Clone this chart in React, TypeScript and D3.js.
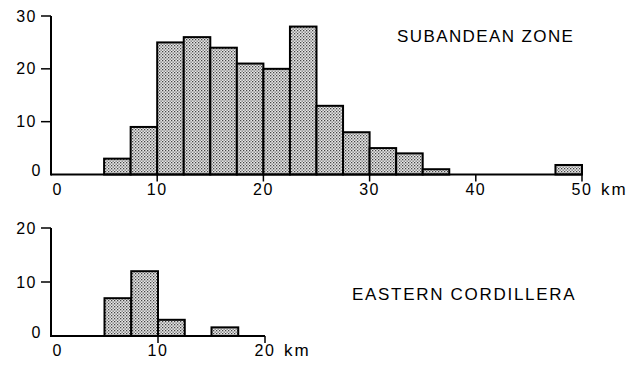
import React from "react";
import * as d3 from "d3";

const binWidth = 2.5;
const subBinStarts = [5, 7.5, 10, 12.5, 15, 17.5, 20, 22.5, 25, 27.5, 30, 32.5, 35, 47.5];
const subCounts = [3, 9, 25, 26, 24, 21, 20, 28, 13, 8, 5, 4, 1, 1.8];
const subXTicks = [10, 20, 30, 40, 50];
const subYTicks = [0, 10, 20, 30];

const eastBinStarts = [5, 7.5, 10, 15];
const eastCounts = [7, 12, 3, 1.6];
const eastXTicks = [10, 20];
const eastYTicks = [0, 10, 20];

const FONT = "'Liberation Sans', Arial, Helvetica, sans-serif";

type PanelProps = {
  starts: number[];
  counts: number[];
  xMax: number;
  yMax: number;
  xTicks: number[];
  yTicks: number[];
  x0: number;
  x1: number;
  yBase: number;
  yTop: number;
  xLabelY: number;
  unitLabel: string;
  pid: string;
};

function Panel(p: PanelProps) {
  const x = d3.scaleLinear().domain([0, p.xMax]).range([p.x0, p.x1]);
  const y = d3.scaleLinear().domain([0, p.yMax]).range([p.yBase, p.yTop]);
  return (
    <g>
      {p.starts.map((s, i) => (
        <rect
          key={i}
          x={x(s)}
          y={y(p.counts[i])}
          width={x(s + binWidth) - x(s)}
          height={y(0) - y(p.counts[i])}
          fill={`url(#${p.pid})`}
          stroke="#000"
          strokeWidth={2}
        />
      ))}
      <line x1={x(0)} x2={x(p.xMax)} y1={y(0)} y2={y(0)} stroke="#000" strokeWidth={2} />
      <line x1={x(0)} x2={x(0)} y1={y(0) + 1} y2={y(p.yMax)} stroke="#000" strokeWidth={2} />
      {p.yTicks.filter((t) => t > 0).map((t) => (
        <line key={t} x1={x(0) - 10} x2={x(0)} y1={y(t)} y2={y(t)} stroke="#000" strokeWidth={1.5} />
      ))}
      {p.xTicks.map((t) => (
        <line key={t} x1={x(t)} x2={x(t)} y1={y(0)} y2={y(0) + 7} stroke="#000" strokeWidth={1.5} />
      ))}
      {p.yTicks.map((t) => (
        <text
          key={t}
          x={x(0) - (t === 0 ? 9 : 14)}
          y={t === 0 ? y(0) - 4 : y(t)}
          textAnchor="end"
          dominantBaseline="central"
          fontSize={16}
          letterSpacing={1.5}
          fontFamily={FONT}
        >
          {t}
        </text>
      ))}
      <text x={x(0) + 6} y={p.xLabelY} textAnchor="middle" fontSize={16} fontFamily={FONT}>
        0
      </text>
      {p.xTicks.map((t) => (
        <text key={t} x={x(t)} y={p.xLabelY} textAnchor="middle" fontSize={16} letterSpacing={1.5} fontFamily={FONT}>
          {t}
        </text>
      ))}
      <text x={x(p.xMax) + 19} y={p.xLabelY} textAnchor="start" fontSize={17} letterSpacing={2} fontFamily={FONT}>
        {p.unitLabel}
      </text>
    </g>
  );
}

export default function App() {
  return (
    <svg
      width={640}
      height={367}
      style={{ position: "absolute", left: 0, top: 0, background: "#fff" }}
    >
      <defs>
        <pattern id="dots" width={3} height={3} patternUnits="userSpaceOnUse">
          <rect width={3} height={3} fill="#e8e8e8" />
          <rect x={0} y={0} width={1.3} height={1.3} fill="#444" />
          <rect x={1.5} y={1.5} width={1.3} height={1.3} fill="#666" />
        </pattern>
      </defs>
      <rect width={640} height={367} fill="#fff" />
      <Panel
        starts={subBinStarts}
        counts={subCounts}
        xMax={50}
        yMax={30}
        xTicks={subXTicks}
        yTicks={subYTicks}
        x0={51}
        x1={582}
        yBase={174.5}
        yTop={16}
        xLabelY={195}
        unitLabel="km"
        pid="dots"
      />
      <Panel
        starts={eastBinStarts}
        counts={eastCounts}
        xMax={20}
        yMax={20}
        xTicks={eastXTicks}
        yTicks={eastYTicks}
        x0={51}
        x1={265}
        yBase={336}
        yTop={228}
        xLabelY={356}
        unitLabel="km"
        pid="dots"
      />
      <text x={397} y={42} fontSize={17} letterSpacing={1.4} fontFamily={FONT}>
        SUBANDEAN ZONE
      </text>
      <text x={352} y={300} fontSize={17} letterSpacing={1.7} fontFamily={FONT}>
        EASTERN CORDILLERA
      </text>
    </svg>
  );
}
